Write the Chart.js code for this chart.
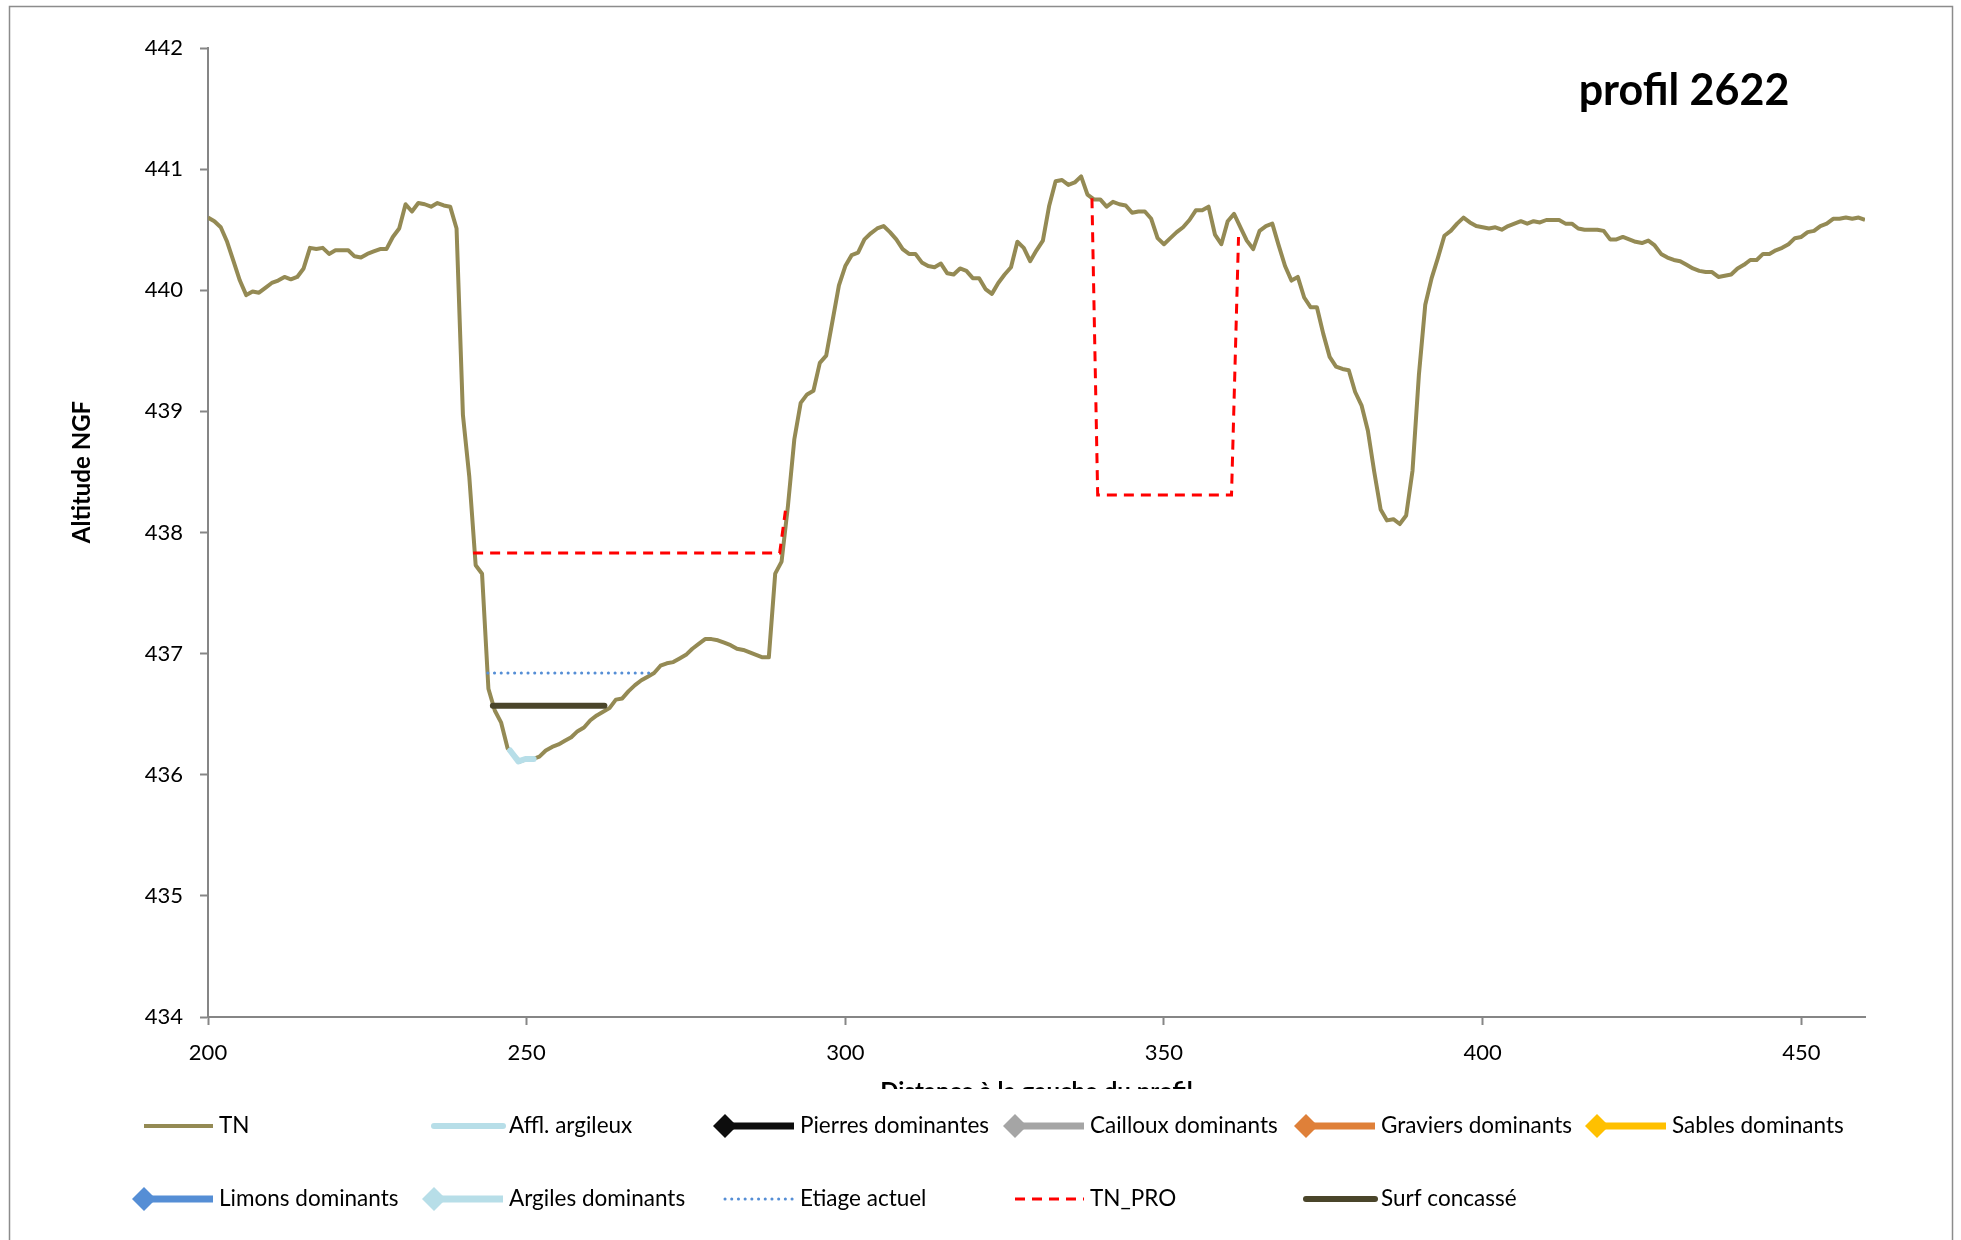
<!DOCTYPE html>
<html lang="fr">
<head>
<meta charset="utf-8">
<title>profil 2622</title>
<script src="https://cdn.jsdelivr.net/npm/chart.js@4.4.1/dist/chart.umd.min.js"></script>
<style>
  html, body { margin: 0; padding: 0; background: #ffffff; }
  #wrap { width: 1961px; height: 1240px; position: relative; overflow: hidden; }
  canvas { display: block; }
</style>
</head>
<body>
<div id="wrap"><canvas id="profil" width="1961" height="1240"></canvas></div>
<script>
// ---- Profile data (distance in m, altitude in m NGF) ----
const profileTitle = 'profil 2622';
const xAxisTitle = 'Distance à la gauche du profil';
const yAxisTitle = 'Altitude NGF';

const xTickValues = [200, 250, 300, 350, 400, 450];
const yTickValues = [434, 435, 436, 437, 438, 439, 440, 441, 442];

// Terrain naturel (TN)
const tnDistance = [
  200, 201, 202, 203, 204, 205, 206, 207, 208, 209,
  210, 211, 212, 213, 214, 215, 216, 217, 218, 219,
  220, 221, 222, 223, 224, 225, 226, 227, 228, 229,
  230, 231, 232, 233, 234, 235, 236, 237, 238, 239,
  240, 241, 242, 243, 244, 245, 246, 247, 248, 249,
  250, 251, 252, 253, 254, 255, 256, 257, 258, 259,
  260, 261, 262, 263, 264, 265, 266, 267, 268, 269,
  270, 271, 272, 273, 274, 275, 276, 277, 278, 279,
  280, 281, 282, 283, 284, 285, 286, 287, 288, 289,
  290, 291, 292, 293, 294, 295, 296, 297, 298, 299,
  300, 301, 302, 303, 304, 305, 306, 307, 308, 309,
  310, 311, 312, 313, 314, 315, 316, 317, 318, 319,
  320, 321, 322, 323, 324, 325, 326, 327, 328, 329,
  330, 331, 332, 333, 334, 335, 336, 337, 338, 339,
  340, 341, 342, 343, 344, 345, 346, 347, 348, 349,
  350, 351, 352, 353, 354, 355, 356, 357, 358, 359,
  360, 361, 362, 363, 364, 365, 366, 367, 368, 369,
  370, 371, 372, 373, 374, 375, 376, 377, 378, 379,
  380, 381, 382, 383, 384, 385, 386, 387, 388, 389,
  390, 391, 392, 393, 394, 395, 396, 397, 398, 399,
  400, 401, 402, 403, 404, 405, 406, 407, 408, 409,
  410, 411, 412, 413, 414, 415, 416, 417, 418, 419,
  420, 421, 422, 423, 424, 425, 426, 427, 428, 429,
  430, 431, 432, 433, 434, 435, 436, 437, 438, 439,
  440, 441, 442, 443, 444, 445, 446, 447, 448, 449,
  450, 451, 452, 453, 454, 455, 456, 457, 458, 459,
  460
];
const tnAltitude = [
  440.60, 440.57, 440.52, 440.40, 440.24, 440.08, 439.96, 439.99, 439.98, 440.02,
  440.06, 440.08, 440.11, 440.09, 440.11, 440.18, 440.35, 440.34, 440.35, 440.30,
  440.33, 440.33, 440.33, 440.28, 440.27, 440.30, 440.32, 440.34, 440.34, 440.44,
  440.51, 440.71, 440.65, 440.72, 440.71, 440.69, 440.72, 440.70, 440.69, 440.51,
  438.97, 438.46, 437.73, 437.66, 436.71, 436.53, 436.43, 436.22, 436.16, 436.11,
  436.13, 436.13, 436.15, 436.20, 436.23, 436.25, 436.28, 436.31, 436.36, 436.39,
  436.45, 436.49, 436.52, 436.55, 436.62, 436.63, 436.69, 436.74, 436.78, 436.81,
  436.84, 436.90, 436.92, 436.93, 436.96, 436.99, 437.04, 437.08, 437.12, 437.12,
  437.11, 437.09, 437.07, 437.04, 437.03, 437.01, 436.99, 436.97, 436.97, 437.66,
  437.76, 438.22, 438.77, 439.07, 439.14, 439.17, 439.40, 439.46, 439.75, 440.04,
  440.20, 440.29, 440.31, 440.42, 440.47, 440.51, 440.53, 440.48, 440.42, 440.34,
  440.30, 440.30, 440.23, 440.20, 440.19, 440.22, 440.14, 440.13, 440.18, 440.16,
  440.10, 440.10, 440.01, 439.97, 440.06, 440.13, 440.19, 440.40, 440.35, 440.24,
  440.33, 440.41, 440.70, 440.90, 440.91, 440.87, 440.89, 440.94, 440.79, 440.75,
  440.75, 440.69, 440.73, 440.71, 440.70, 440.64, 440.65, 440.65, 440.59, 440.43,
  440.38, 440.43, 440.48, 440.52, 440.58, 440.66, 440.66, 440.69, 440.46, 440.38,
  440.57, 440.63, 440.52, 440.41, 440.34, 440.49, 440.53, 440.55, 440.37, 440.20,
  440.08, 440.11, 439.94, 439.86, 439.86, 439.64, 439.45, 439.37, 439.35, 439.34,
  439.16, 439.05, 438.84, 438.50, 438.19, 438.10, 438.11, 438.07, 438.14, 438.51,
  439.30, 439.88, 440.10, 440.27, 440.45, 440.49, 440.55, 440.60, 440.56, 440.53,
  440.52, 440.51, 440.52, 440.50, 440.53, 440.55, 440.57, 440.55, 440.57, 440.56,
  440.58, 440.58, 440.58, 440.55, 440.55, 440.51, 440.50, 440.50, 440.50, 440.49,
  440.42, 440.42, 440.44, 440.42, 440.40, 440.39, 440.41, 440.37, 440.30, 440.27,
  440.25, 440.24, 440.21, 440.18, 440.16, 440.15, 440.15, 440.11, 440.12, 440.13,
  440.18, 440.21, 440.25, 440.25, 440.30, 440.30, 440.33, 440.35, 440.38, 440.43,
  440.44, 440.48, 440.49, 440.53, 440.55, 440.59, 440.59, 440.60, 440.59, 440.60,
  440.58
];

// Affleurement argileux at the bottom of the bed
const afflDistance = [247.4, 248.7, 249.8, 251.1];
const afflAltitude = [436.20, 436.11, 436.13, 436.13];

// Current low-water level
const etiageDistance = [243.9, 269.6];
const etiageAltitude = [436.84, 436.84];

// Crushed-stone surface
const surfDistance = [244.7, 262.2];
const surfAltitude = [436.57, 436.57];

// Projected terrain (two works, null = break between them)
const tnProDistance = [241.6, 289.7, 290.6, 314.0, 338.7, 339.6, 360.6, 361.7];
const tnProAltitude = [437.83, 437.83, 438.18, null, 440.76, 438.31, 438.31, 440.44];

// Substrate classes (no observation on this profile)
const emptyDistance = [];
const emptyAltitude = [];

// ---- Helpers ----
const toPoints = (xs, ys) => xs.map((x, i) => ({ x: x, y: ys[i] }));

function series(label, xs, ys, color, width, extra) {
  return Object.assign({
    label: label,
    data: toPoints(xs, ys),
    borderColor: color,
    backgroundColor: color,
    borderWidth: width,
    pointRadius: 0,
    pointHoverRadius: 0,
    tension: 0,
    fill: false,
    spanGaps: false,
    order: 1
  }, extra || {});
}

const datasets = [
  series('TN', tnDistance, tnAltitude, '#948A54', 4, { order: 10, borderJoinStyle: 'round' }),
  series('Affl. argileux', afflDistance, afflAltitude, '#B7DEE8', 6, { borderCapStyle: 'round', borderJoinStyle: 'round' }),
  series('Pierres dominantes', emptyDistance, emptyAltitude, '#0D0D0D', 7, { pointStyle: 'rectRot' }),
  series('Cailloux dominants', emptyDistance, emptyAltitude, '#A5A5A5', 7, { pointStyle: 'rectRot' }),
  series('Graviers dominants', emptyDistance, emptyAltitude, '#DF8039', 7, { pointStyle: 'rectRot' }),
  series('Sables dominants', emptyDistance, emptyAltitude, '#FFC000', 7, { pointStyle: 'rectRot' }),
  series('Limons dominants', emptyDistance, emptyAltitude, '#558ED5', 7, { pointStyle: 'rectRot' }),
  series('Argiles dominants', emptyDistance, emptyAltitude, '#B7DEE8', 7, { pointStyle: 'rectRot' }),
  series('Etiage actuel', etiageDistance, etiageAltitude, '#558ED5', 3, { borderDash: [0.1, 6.6], borderCapStyle: 'round' }),
  series('TN_PRO', tnProDistance, tnProAltitude, '#FF0000', 3, { borderDash: [10, 7] }),
  series('Surf concassé', surfDistance, surfAltitude, '#4A452A', 6, { borderCapStyle: 'round' })
];

// ---- Frame, titles and legend ----
const legendColumns = [219, 509, 800, 1090, 1381, 1672];
const legendRows = [1126, 1199];

const decorations = {
  id: 'decorations',
  beforeDraw(chart) {
    const ctx = chart.ctx;
    ctx.save();
    ctx.fillStyle = '#ffffff';
    ctx.fillRect(0, 0, chart.width, chart.height);
    ctx.strokeStyle = '#8C8C8C';
    ctx.lineWidth = 1.5;
    ctx.strokeRect(9.5, 6.5, 1943, 1260);
    ctx.restore();
  },
  afterDraw(chart) {
    const ctx = chart.ctx;
    const area = chart.chartArea;

    // Chart title
    ctx.save();
    ctx.fillStyle = '#000000';
    ctx.font = 'bold 43px Lato';
    ctx.textAlign = 'center';
    ctx.textBaseline = 'alphabetic';
    ctx.fillText(profileTitle, 1684, 105);
    ctx.restore();

    // Vertical axis title
    ctx.save();
    ctx.fillStyle = '#000000';
    ctx.font = 'bold 24px Lato';
    ctx.translate(90, 472);
    ctx.rotate(-Math.PI / 2);
    ctx.textAlign = 'center';
    ctx.textBaseline = 'alphabetic';
    ctx.fillText(yAxisTitle, 0, 0);
    ctx.restore();

    // Horizontal axis title, partly hidden behind the legend box
    ctx.save();
    ctx.beginPath();
    ctx.rect(0, 0, chart.width, 1089);
    ctx.clip();
    ctx.fillStyle = '#000000';
    ctx.font = 'bold 24px Lato';
    ctx.textAlign = 'center';
    ctx.textBaseline = 'alphabetic';
    ctx.fillText(xAxisTitle, (area.left + area.right) / 2, 1100);
    ctx.restore();

    // Legend
    chart.data.datasets.forEach((ds, i) => {
      const row = i < 6 ? 0 : 1;
      const col = i < 6 ? i : i - 6;
      const tx = legendColumns[col];
      const ty = legendRows[row];
      const x0 = tx - 75;
      const x1 = tx - 6;
      ctx.save();
      ctx.strokeStyle = ds.borderColor;
      ctx.lineWidth = ds.borderWidth;
      ctx.setLineDash(ds.borderDash || []);
      ctx.lineCap = ds.borderCapStyle || 'butt';
      ctx.beginPath();
      ctx.moveTo(x0, ty);
      ctx.lineTo(x1, ty);
      ctx.stroke();
      if (ds.pointStyle === 'rectRot') {
        ctx.setLineDash([]);
        ctx.fillStyle = ds.borderColor;
        ctx.beginPath();
        ctx.moveTo(x0 - 12, ty);
        ctx.lineTo(x0, ty - 12);
        ctx.lineTo(x0 + 12, ty);
        ctx.lineTo(x0, ty + 12);
        ctx.closePath();
        ctx.fill();
      }
      ctx.fillStyle = '#000000';
      ctx.font = '22.5px Lato';
      ctx.textAlign = 'left';
      ctx.textBaseline = 'middle';
      ctx.fillText(ds.label, tx, ty);
      ctx.restore();
    });
  }
};

const axisGray = '#868686';

function build() {
  new Chart(document.getElementById('profil'), {
    type: 'line',
    data: { datasets: datasets },
    options: {
      responsive: false,
      animation: false,
      events: [],
      devicePixelRatio: 1,
      layout: { padding: { left: 0, right: 96, top: 48, bottom: 163 } },
      plugins: {
        legend: { display: false },
        title: { display: false },
        tooltip: { enabled: false }
      },
      scales: {
        x: {
          type: 'linear',
          min: 200,
          max: 460,
          afterBuildTicks: (scale) => { scale.ticks = xTickValues.map(v => ({ value: v })); },
          afterFit: (scale) => { scale.height = 60; },
          grid: { display: true, drawOnChartArea: false, drawTicks: true, tickLength: 8, color: axisGray, tickColor: axisGray, tickWidth: 2 },
          border: { display: true, color: axisGray, width: 2 },
          ticks: { font: { family: 'Lato', size: 22 }, color: '#000000', padding: 15, maxRotation: 0, autoSkip: false }
        },
        y: {
          type: 'linear',
          min: 434,
          max: 442,
          afterBuildTicks: (scale) => { scale.ticks = yTickValues.map(v => ({ value: v })); },
          afterFit: (scale) => { scale.width = 208; },
          grid: { display: true, drawOnChartArea: false, drawTicks: true, tickLength: 8, color: axisGray, tickColor: axisGray, tickWidth: 2 },
          border: { display: true, color: axisGray, width: 2 },
          ticks: { font: { family: 'Lato', size: 22 }, color: '#000000', padding: 17, autoSkip: false }
        }
      }
    },
    plugins: [decorations]
  });
}

const fontsReady = (document.fonts && document.fonts.load)
  ? Promise.all([
      document.fonts.load('22px Lato'),
      document.fonts.load('bold 24px Lato'),
      document.fonts.load('bold 43px Lato')
    ]).catch(() => null)
  : Promise.resolve();
fontsReady.then(build, build);
</script>
</body>
</html>
